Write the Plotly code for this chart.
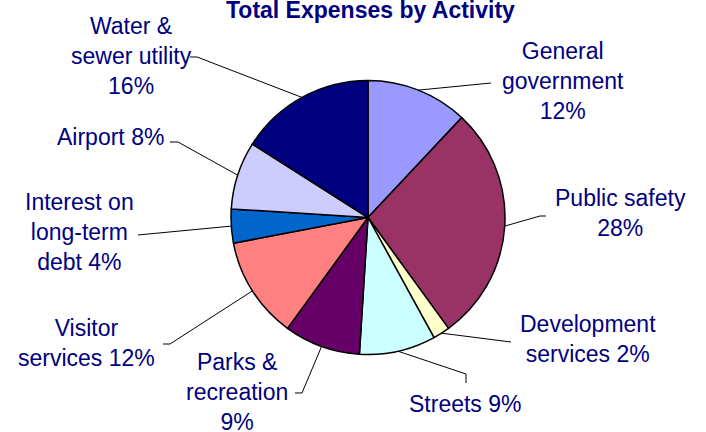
import math
import plotly.graph_objects as go

# ---- data ----
categories = ["General government", "Public safety", "Development services", "Streets",
              "Parks & recreation", "Visitor services", "Interest on long-term debt",
              "Airport", "Water & sewer utility"]
values = [12, 28, 2, 9, 9, 12, 4, 8, 16]
display_names = ["General<br>government<br>", "Public safety<br>", "Development<br>services ",
                 "Streets ", "Parks &<br>recreation<br>", "Visitor<br>services ",
                 "Interest on<br>long-term<br>debt ", "Airport ", "Water &<br>sewer utility<br>"]
colors = ["#9999FF", "#993366", "#FFFFCC", "#CCFFFF", "#660066", "#FF8080",
          "#0066CC", "#CCCCFF", "#000080"]
title_text = "Total Expenses by Activity"

W, H = 706, 432
NAVY = "#000080"
FONT = "Arial, Liberation Sans, sans-serif"

# pie placement in pixels
cx, cy, R = 368, 217.5, 137
dom_x = [(cx - R) / W, (cx + R) / W]
dom_y = [1 - (cy + R) / H, 1 - (cy - R) / H]

# label centres and leader-line label-end paths (pixels)
label_pos = [(563, 81), (620, 213), (588, 339), (465, 404), (237, 392),
             (86, 343), (79, 232), (110, 137), (131, 56)]
leader_end = [[(491, 83)], [(540, 216), (546, 216)], [(511, 342)],
              [(466, 374), (466, 383)], [(302, 393), (295, 393)],
              [(170, 344), (163, 344)], [(138, 235)], [(178, 142), (170, 142)],
              [(197, 57), (190, 57)]]


def px(x, y):
    return x / W, 1 - y / H


fig = go.Figure(go.Pie(
    labels=categories, values=values, sort=False, direction="clockwise", rotation=0,
    marker=dict(colors=colors, line=dict(color="black", width=1.5)),
    textinfo="none", hoverinfo="label+percent", showlegend=False,
    domain=dict(x=dom_x, y=dom_y),
))

total = sum(values)
cum = 0
shapes = []
annotations = []
for i, v in enumerate(values):
    mid = (cum + v / 2) / total * 2 * math.pi
    cum += v
    ex = cx + R * math.sin(mid)
    ey = cy - R * math.cos(mid)
    pts = [(ex, ey)] + leader_end[i]
    path = "M " + " L ".join(f"{px(a, b)[0]:.5f},{px(a, b)[1]:.5f}" for a, b in pts)
    shapes.append(dict(type="path", xref="paper", yref="paper", path=path,
                       line=dict(color="black", width=1)))
    lx, ly = px(*label_pos[i])
    annotations.append(dict(
        x=lx, y=ly, xref="paper", yref="paper", xanchor="center", yanchor="middle",
        text=f"{display_names[i]}{v}%", showarrow=False, align="center",
        font=dict(family=FONT, size=23, color=NAVY)))

tx, ty = px(370, 0)
annotations.append(dict(x=tx, y=1, xref="paper", yref="paper", xanchor="center",
                        yanchor="top", yshift=5, text=f"<b>{title_text}</b>",
                        showarrow=False, font=dict(family=FONT, size=23, color=NAVY)))

fig.update_layout(width=W, height=H, margin=dict(l=0, r=0, t=0, b=0),
                  paper_bgcolor="white", plot_bgcolor="white",
                  shapes=shapes, annotations=annotations)

fig.write_html("out.html", config={"displayModeBar": False},
               post_script="document.body.style.margin='0';")
